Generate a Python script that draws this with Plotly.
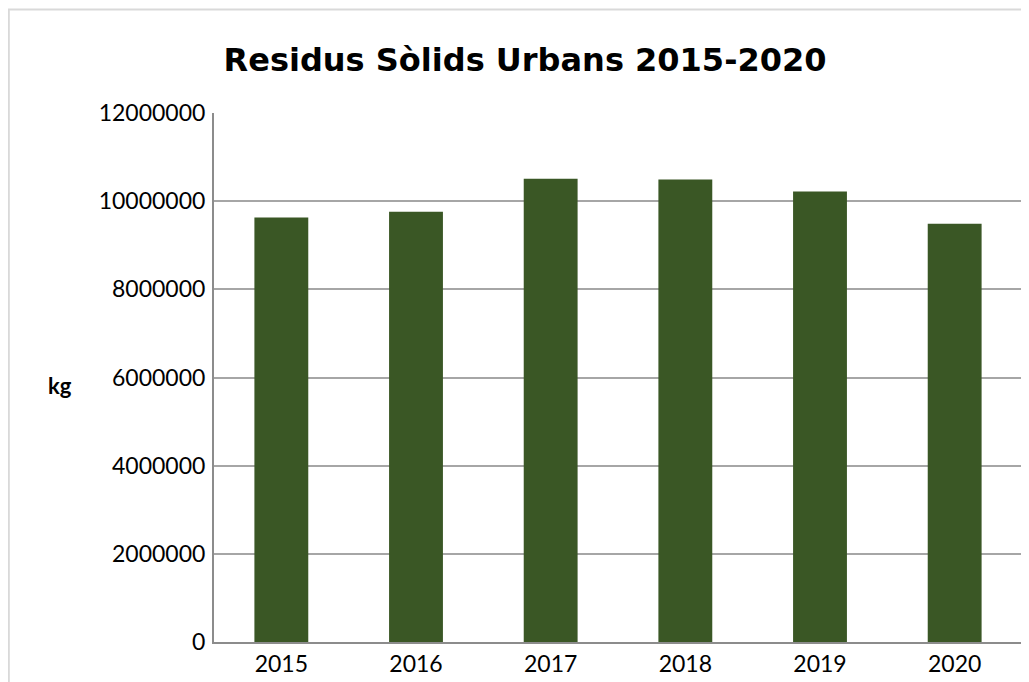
import plotly.graph_objects as go

years = ["2015", "2016", "2017", "2018", "2019", "2020"]
residus_kg = [9630000, 9760000, 10510000, 10490000, 10220000, 9490000]
y_ticks = [0, 2000000, 4000000, 6000000, 8000000, 10000000, 12000000]
y_tick_labels = ["0", "2000000", "4000000", "6000000", "8000000", "10000000", "12000000"]

W, H = 1029, 682
OFF = 8  # page body margin
L, T = 214 - OFF, 112.5 - OFF
R = W - (1022 - OFF)
B = H - (642 - OFF)
pw = W - L - R
ph = H - T - B


def px_x(x):
    return (x - OFF - L) / pw


def px_y(y):
    return (H - B - (y - OFF)) / ph


fig = go.Figure(go.Bar(x=years, y=residus_kg, marker=dict(color="#3a5725", line=dict(width=0)),
                       hoverinfo="x+y"))

fig.update_layout(
    width=W, height=H,
    margin=dict(l=L, r=R, t=T, b=B),
    paper_bgcolor="white", plot_bgcolor="white",
    bargap=0.6,
    showlegend=False,
    font=dict(family="Lato", size=23, color="#000"),
    title=dict(text="<b>Residus Sòlids Urbans 2015-2020</b>", x=(525 - OFF) / W, xanchor="center",
               y=1 - (60 - OFF) / H, yanchor="middle", yref="container",
               font=dict(family="DejaVu Sans", size=32, color="#000")),
    xaxis=dict(showgrid=False, showline=True, linecolor="#8c8c8c", linewidth=2,
               ticks="", tickfont=dict(size=23), zeroline=False),
    yaxis=dict(range=[0, 12000000], tickvals=y_ticks, ticktext=y_tick_labels,
               showgrid=True, gridcolor="#a6a6a6", gridwidth=2,
               showline=True, linecolor="#8c8c8c", linewidth=2,
               ticks="", ticklabelstandoff=2, tickfont=dict(size=23), zeroline=False),
    annotations=[dict(text="<b>kg</b>", x=px_x(46), y=px_y(385), xanchor="left", yanchor="middle",
                      xref="paper", yref="paper", showarrow=False,
                      font=dict(family="Lato", size=22, color="#000"))],
    shapes=[
        dict(type="line", xref="paper", yref="paper",
             x0=px_x(8.8), x1=px_x(8.8), y0=px_y(9), y1=px_y(720),
             line=dict(color="#d9d9d9", width=2)),
        dict(type="line", xref="paper", yref="paper",
             x0=px_x(8), x1=px_x(1060), y0=px_y(9), y1=px_y(9),
             line=dict(color="#d9d9d9", width=2)),
    ],
)

fig.write_html("out.html")
